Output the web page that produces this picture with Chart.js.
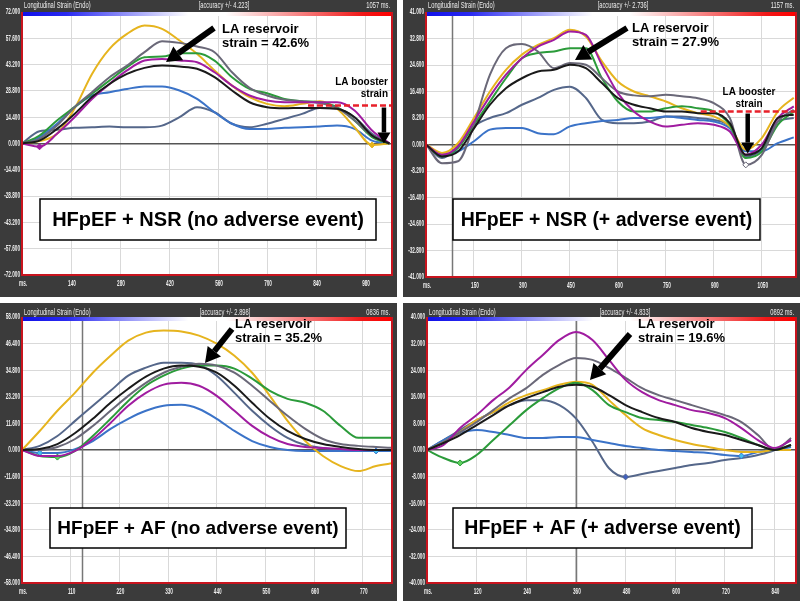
<!DOCTYPE html>
<html>
<head>
<meta charset="utf-8">
<script src="https://cdn.jsdelivr.net/npm/chart.js@4.4.0/dist/chart.umd.min.js"></script>
<style>
  html, body { margin: 0; padding: 0; background: #fff; }
  body { width: 800px; height: 601px; position: relative; overflow: hidden; }
  canvas { position: absolute; }
</style>
</head>
<body>
<canvas id="p1" style="left:0;top:0" width="397" height="297"></canvas>
<canvas id="p2" style="left:403px;top:0" width="397" height="297"></canvas>
<canvas id="p3" style="left:0;top:303px" width="397" height="298"></canvas>
<canvas id="p4" style="left:403px;top:303px" width="397" height="298"></canvas>
<script>
// ========== DATA (ms vs longitudinal strain %) ==========

// Panel 1 - HFpEF + NSR (no adverse event)
const t1 = [0, 50, 100, 150, 200, 250, 300, 350, 400, 450, 500, 550, 600, 650, 700, 750, 800, 850, 900, 950, 1000, 1050];
const black1   = [0, 1.6, 8.0, 16.2, 25.4, 32.6, 38.1, 41.4, 42.7, 42.1, 40.9, 36.3, 29.0, 22.6, 19.9, 19.3, 19.5, 19.5, 19.0, 14.4, 4.4, 0];
const magenta1 = [0, -1.8, 5.3, 14.4, 24.4, 32.6, 40.0, 45.4, 46.3, 45.4, 44.5, 39.0, 31.7, 26.3, 23.5, 22.6, 22.6, 22.6, 22.6, 18.1, 7.1, 0];
const gray1    = [0, 2.5, 9.8, 19.9, 28.1, 36.3, 42.7, 50.0, 56.0, 55.1, 53.1, 50.0, 39.0, 30.5, 26.3, 23.9, 23.2, 22.1, 19.5, 12.6, 4.4, 0];
const green1   = [0, 4.4, 12.6, 19.9, 27.2, 34.5, 41.8, 47.2, 47.6, 49.4, 49.4, 45.4, 36.3, 29.9, 27.5, 24.4, 23.2, 22.6, 19.9, 12.6, 3.5, 0];
const yellow1  = [0, 1.3, 5.3, 19.0, 38.1, 51.8, 60.0, 64.6, 62.8, 56.4, 49.1, 40.0, 31.7, 25.4, 21.7, 20.4, 21.7, 23.2, 19.0, 8.9, -0.8, 0];
const blue1    = [0, 3.5, 10.8, 19.9, 26.3, 28.1, 29.9, 31.2, 31.2, 29.0, 24.4, 17.1, 10.8, 8.0, 8.0, 8.6, 8.9, 9.3, 9.8, 8.0, 1.6, 0];
const slate1   = [0, 6.7, 7.5, 8.6, 8.9, 9.3, 8.9, 8.9, 9.8, 14.4, 19.9, 17.1, 10.8, 8.9, 10.8, 13.5, 16.2, 19.5, 19.0, 14.4, 5.3, 0];
const xTicks1 = [0, 140, 280, 420, 560, 700, 840, 980];
const yTicks1 = [-72, -57.6, -43.2, -28.8, -14.4, 0, 14.4, 28.8, 43.2, 57.6, 72];

// Panel 2 - HFpEF + NSR (+ adverse event)
const t2 = [0, 50, 100, 150, 200, 250, 300, 350, 400, 450, 500, 550, 600, 650, 700, 750, 800, 850, 900, 950, 1000, 1050, 1100, 1150];
const black2   = [0, -3.7, -2.2, 5.0, 12.3, 17.4, 20.5, 22.6, 23.1, 24.7, 23.6, 19.0, 14.4, 12.3, 11.2, 10.2, 10.2, 9.7, 9.7, 6.6, -3.2, -1.1, 8.2, 9.2];
const magenta2 = [0, -3.2, -0.6, 7.1, 14.9, 21.6, 26.7, 30.3, 32.4, 35.0, 33.9, 24.7, 15.9, 10.2, 7.1, 5.6, 6.1, 6.6, 6.1, 4.0, -3.2, 0, 8.2, 11.8];
const gray2    = [0, -5.8, -5.2, 6.1, 21.6, 29.8, 31.1, 28.8, 23.6, 25.2, 24.7, 20.5, 16.4, 15.2, 14.9, 15.4, 14.9, 14.3, 12.8, 8.2, -6.3, -3.2, 7.1, 10.7];
const green2   = [0, -3.7, -1.1, 6.1, 13.3, 20.5, 26.7, 28.3, 28.8, 29.8, 29.8, 20.5, 13.3, 10.2, 10.2, 11.2, 11.8, 11.2, 10.2, 6.1, -4.2, -2.2, 6.1, 10.2];
const yellow2  = [0, -2.6, 0.4, 8.2, 16.4, 23.1, 27.8, 30.8, 32.9, 35.5, 33.4, 25.7, 19.5, 16.4, 14.9, 13.3, 11.2, 9.7, 8.7, 5.6, -1.6, 2.0, 10.2, 14.5];
const blue2    = [0, -3.1, -2.1, 1.0, 4.6, 5.1, 5.1, 3.5, 3.2, 5.6, 6.6, 7.3, 7.6, 8.2, 8.2, 8.7, 8.2, 7.6, 7.1, 5.0, -2.1, -2.1, 0.4, 2.2];
const slate2   = [0, -4.2, -0.5, 5.6, 8.2, 9.7, 12.3, 14.4, 16.9, 17.9, 14.4, 7.6, 6.6, 6.6, 7.1, 8.7, 8.7, 8.2, 7.6, 5.6, -3.7, -1.6, 7.1, 8.2];
const xTicks2 = [0, 150, 300, 450, 600, 750, 900, 1050];
const yTicks2 = [-41, -32.8, -24.6, -16.4, -8.2, 0, 8.2, 16.4, 24.6, 32.8, 41];

// Panel 3 - HFpEF + AF (no adverse event)
const t3 = [0, 40, 80, 120, 160, 200, 240, 280, 320, 360, 400, 440, 480, 520, 560, 600, 640, 680, 720, 760, 800, 840];
const black3   = [0, 0.4, 2.6, 7.4, 13.6, 20.6, 26.7, 32.0, 35.5, 36.8, 36.3, 33.7, 28.0, 20.6, 13.6, 8.3, 4.8, 2.6, 1.3, 0.4, 0, 0];
const magenta3 = [0, -2.6, -2.6, -0.4, 4.8, 11.8, 19.3, 24.9, 28.5, 29.3, 28.0, 23.6, 17.1, 10.5, 5.7, 2.6, 1.3, 0.9, 0.4, 0, 0, 0];
const gray3    = [0, 0, 1.3, 4.8, 10.5, 17.1, 23.6, 29.3, 33.7, 36.3, 37.6, 36.8, 33.7, 28.0, 21.4, 14.9, 9.2, 4.8, 2.6, 1.8, 1.3, 0.9];
const green3   = [0, -2.6, -3.1, -0.4, 6.1, 13.6, 21.4, 28.0, 32.4, 35.5, 36.8, 36.8, 35.5, 31.1, 25.8, 22.3, 20.6, 17.1, 10.5, 5.3, 5.3, 5.3];
const yellow3  = [0, 8.3, 17.1, 25.0, 33.7, 41.1, 47.7, 51.2, 52.1, 51.7, 49.9, 46.4, 41.1, 33.7, 23.6, 12.7, 3.9, -2.6, -7.0, -9.2, -7.0, -5.7];
const blue3    = [0, -1.3, -1.3, 0.4, 3.9, 9.2, 13.6, 17.1, 19.3, 19.7, 17.9, 13.6, 8.3, 3.9, 1.3, 0, -0.4, -0.4, -0.4, -0.4, -0.4, -0.4];
const slate3   = [0, 1.8, 6.1, 12.7, 19.3, 25.8, 32.4, 35.9, 38.1, 38.1, 37.2, 32.4, 24.9, 17.1, 10.5, 5.3, 2.2, 0.9, 0, -0.4, -0.4, 0];
const xTicks3 = [0, 110, 220, 330, 440, 550, 660, 770];
const yTicks3 = [-58, -46.4, -34.8, -23.2, -11.6, 0, 11.6, 23.2, 34.8, 46.4, 58];

// Panel 4 - HFpEF + AF (+ adverse event)
const t4 = [0, 40, 80, 120, 160, 200, 240, 280, 320, 360, 400, 440, 480, 520, 560, 600, 640, 680, 720, 760, 800, 840, 880];
const black4   = [0, 2.1, 4.5, 7.5, 10.5, 13.5, 15.6, 17.4, 19.0, 19.6, 19.0, 16.5, 13.5, 11.4, 9.6, 8.4, 6.6, 5.4, 4.5, 3.0, 1.5, 0, 1.5];
const magenta4 = [0, 1.5, 6.6, 10.5, 15.0, 18.9, 24.1, 28.6, 33.1, 35.5, 33.1, 27.1, 21.1, 17.4, 15.0, 13.5, 12.0, 11.1, 9.6, 6.6, 3.0, 0.6, 3.0];
const gray4    = [0, 2.4, 5.4, 8.4, 12.0, 15.6, 18.6, 22.6, 25.6, 27.7, 27.1, 24.7, 21.7, 18.6, 16.5, 15.0, 13.5, 12.0, 10.5, 8.4, 4.5, 0, 3.6];
const green4   = [0, -2.4, -3.9, -1.5, 3.0, 7.5, 12.0, 15.6, 18.6, 20.2, 18.0, 13.5, 11.4, 9.6, 9.0, 8.4, 7.5, 6.6, 5.4, 3.6, 1.5, 0, 1.5];
const yellow4  = [0, 2.4, 5.4, 9.0, 11.4, 14.4, 16.5, 18.0, 19.6, 20.5, 19.6, 15.0, 10.5, 6.6, 4.5, 3.0, 1.8, 0.9, 0, -0.6, -0.6, 0, 0];
const blue4    = [0, 3.0, 5.1, 6.0, 5.4, 4.5, 3.6, 3.6, 3.9, 3.9, 3.0, 2.1, 1.2, 0.6, 0, -0.3, -0.6, -0.9, -1.5, -1.8, -0.6, 0, 0.9];
const slate4   = [0, 3.0, 6.0, 9.0, 11.4, 13.5, 15.0, 15.0, 13.5, 9.5, 2.5, -5.5, -8.1, -7.2, -6.3, -5.4, -4.5, -3.9, -3.0, -2.4, -1.5, 0, 3.0];
const xTicks4 = [0, 120, 240, 360, 480, 600, 720, 840];
const yTicks4 = [-40, -32, -24, -16, -8, 0, 8, 16, 24, 32, 40];

// ========== STYLE ==========

const COLORS = {
    black: '#1a1a1a', magenta: '#a01ca0', gray: '#6a6878', green: '#2b9b3a',
    yellow: '#e6b41e', blue: '#3b73c8', slate: '#55678a'
};
const SANS = '"Liberation Sans", Arial, sans-serif';

function arrow(ctx, x1, y1, x2, y2, w, hl, hw) {
    const a = Math.atan2(y2 - y1, x2 - x1);
    const bx = x2 - hl * Math.cos(a), by = y2 - hl * Math.sin(a);
    ctx.lineWidth = w;
    ctx.lineCap = 'butt';
    ctx.beginPath(); ctx.moveTo(x1, y1); ctx.lineTo(bx, by); ctx.stroke();
    ctx.beginPath();
    ctx.moveTo(x2, y2);
    ctx.lineTo(bx + hw / 2 * Math.sin(a), by - hw / 2 * Math.cos(a));
    ctx.lineTo(bx - hw / 2 * Math.sin(a), by + hw / 2 * Math.cos(a));
    ctx.closePath(); ctx.fill();
}

// the echo software uses a condensed face, none installed: squeeze a normal one
function narrowText(ctx, text, x, y, align, font, sx) {
    ctx.save();
    ctx.translate(x, y);
    ctx.scale(sx, 1);
    ctx.font = font + ' ' + SANS;
    ctx.textAlign = align;
    ctx.textBaseline = 'middle';
    ctx.fillText(text, 0, 0);
    ctx.restore();
}

// panel frame: dark background, header, gradient bar, red border, labels and arrows
function framePlugin(o) {
    return {
        id: 'frame',
        beforeDraw(chart) {
            const { ctx, chartArea: a } = chart;
            ctx.save();
            ctx.fillStyle = '#3b3b3b';
            ctx.fillRect(0, 0, chart.width, chart.height);
            ctx.fillStyle = '#fff';
            ctx.fillRect(a.left, a.top, a.right - a.left, a.bottom - a.top);
            ctx.restore();
        },
        beforeDatasetsDraw(chart) {
            if (o.marker == null) return;
            const { ctx, chartArea: a, scales } = chart;
            const x = Math.round(scales.x.getPixelForValue(o.marker)) + 0.5;
            ctx.save();
            ctx.strokeStyle = '#777';
            ctx.lineWidth = 1.5;
            ctx.beginPath(); ctx.moveTo(x, a.top); ctx.lineTo(x, a.bottom); ctx.stroke();
            ctx.restore();
        },
        afterDraw(chart) {
            const { ctx, chartArea: a, scales } = chart;
            ctx.save();
            // axis tick labels, from the library's own ticks
            ctx.fillStyle = '#ececec';
            scales.y.ticks.forEach(t => {
                narrowText(ctx, t.value.toFixed(3), a.left - 2, scales.y.getPixelForValue(t.value), 'right', 'bold 8.5px', 0.55);
            });
            scales.x.ticks.forEach(t => {
                const label = t.value === 0 ? 'ms.' : String(t.value);
                narrowText(ctx, label, scales.x.getPixelForValue(t.value) + 1, a.bottom + 9, 'center', 'bold 8.5px', 0.55);
            });
            // header
            narrowText(ctx, 'Longitudinal Strain (Endo)', a.left + 2, o.headY, 'left', '9px', 0.64);
            narrowText(ctx, o.accuracy, o.accX, o.headY, 'center', '9px', 0.64);
            narrowText(ctx, o.duration, a.right - 2, o.headY, 'right', '9px', 0.64);
            // gradient bar
            const g = ctx.createLinearGradient(a.left, 0, a.right, 0);
            g.addColorStop(0, '#1010e8');
            g.addColorStop(0.12, '#2a2af0');
            g.addColorStop(0.45, '#ffffff');
            g.addColorStop(0.55, '#ffffff');
            g.addColorStop(0.92, '#f01818');
            g.addColorStop(1, '#ff0000');
            ctx.fillStyle = g;
            ctx.fillRect(a.left, a.top, a.right - a.left, 4);
            // red border
            ctx.strokeStyle = '#c8141e';
            ctx.lineWidth = 2;
            ctx.beginPath();
            ctx.moveTo(a.left, a.top); ctx.lineTo(a.left, a.bottom);
            ctx.lineTo(a.right, a.bottom); ctx.lineTo(a.right, a.top);
            ctx.stroke();
            // booster strain annotation
            ctx.textBaseline = 'middle';
            if (o.booster) {
                const b = o.booster;
                const y = scales.y.getPixelForValue(b.level);
                ctx.strokeStyle = '#e8202a';
                ctx.lineWidth = 2.5;
                ctx.setLineDash([6, 3]);
                ctx.beginPath();
                ctx.moveTo(scales.x.getPixelForValue(b.from), y);
                ctx.lineTo(a.right - 1, y);
                ctx.stroke();
                ctx.setLineDash([]);
                ctx.fillStyle = '#000';
                ctx.strokeStyle = '#000';
                const bx = scales.x.getPixelForValue(b.at);
                arrow(ctx, bx, y + 2, bx, scales.y.getPixelForValue(b.tip), 4.5, 11, 13);
                ctx.font = 'bold 10px ' + SANS;
                ctx.textAlign = b.align;
                ctx.fillText('LA booster', b.textX, b.textY);
                ctx.fillText('strain', b.textX, b.textY + 12);
            }
            // reservoir annotation
            ctx.fillStyle = '#000';
            ctx.strokeStyle = '#000';
            ctx.font = 'bold 13px ' + SANS;
            ctx.textAlign = 'left';
            ctx.fillText('LA reservoir', o.resX, o.resY);
            ctx.fillText(o.resText, o.resX, o.resY + 14.5);
            arrow(ctx, o.arrow[0], o.arrow[1], o.arrow[2], o.arrow[3], 6, 15, 17);
            // group label box
            const [bx, by, bw, bh] = o.box;
            ctx.fillStyle = '#fff';
            ctx.fillRect(bx, by, bw, bh);
            ctx.lineWidth = 1.5;
            ctx.strokeRect(bx, by, bw, bh);
            ctx.fillStyle = '#000';
            ctx.font = 'bold ' + o.labelSize + 'px ' + SANS;
            ctx.textAlign = 'center';
            ctx.fillText(o.label, bx + bw / 2, by + bh / 2 + 1);
            ctx.restore();
        }
    };
}

function makePanel(id, o) {
    const canvas = document.getElementById(id);
    const W = canvas.width, H = canvas.height;
    return new Chart(canvas, {
        type: 'line',
        data: {
            datasets: o.series.map(s => {
                const marks = s[2] || [];
                const dot = s[3] || COLORS[s[1]];
                return {
                    data: o.t.map((x, i) => ({ x, y: s[0][i] })),
                    borderColor: COLORS[s[1]],
                    borderWidth: 2,
                    pointStyle: 'rectRot',
                    pointRadius: c => marks.includes(c.dataIndex) ? 3 : 0,
                    pointBackgroundColor: dot,
                    pointBorderColor: COLORS[s[1]],
                    pointBorderWidth: 1,
                    tension: 0.4,
                    cubicInterpolationMode: 'monotone',
                    fill: false
                };
            })
        },
        options: {
            responsive: false,
            animation: false,
            events: [],
            layout: { padding: { left: 0, right: W - o.area[1], top: o.area[2], bottom: 0 } },
            plugins: { legend: { display: false }, tooltip: { enabled: false } },
            scales: {
                x: {
                    type: 'linear', min: 0, max: o.maxMs,
                    afterBuildTicks: s => { s.ticks = o.xTicks.map(v => ({ value: v })); },
                    afterFit: s => { s.height = H - o.area[3]; },
                    ticks: { display: false, autoSkip: false },
                    grid: { color: '#d9d9d9', lineWidth: 1, drawTicks: false },
                    border: { display: false }
                },
                y: {
                    min: o.yTicks[0], max: o.yTicks[o.yTicks.length - 1],
                    afterBuildTicks: s => { s.ticks = o.yTicks.map(v => ({ value: v })); },
                    afterFit: s => { s.width = o.area[0]; },
                    ticks: { display: false, autoSkip: false },
                    grid: {
                        color: c => (c.tick && c.tick.value === 0) ? '#555' : '#d9d9d9',
                        lineWidth: c => (c.tick && c.tick.value === 0) ? 1.5 : 1,
                        drawTicks: false
                    },
                    border: { display: false }
                }
            }
        },
        plugins: [framePlugin(o)]
    });
}

makePanel('p1', {
    t: t1, maxMs: 1057, xTicks: xTicks1, yTicks: yTicks1, area: [22, 392, 12, 275],
    series: [[black1, 'black'], [magenta1, 'magenta', [1]], [gray1, 'gray'], [green1, 'green'],
             [yellow1, 'yellow', [20]], [blue1, 'blue'], [slate1, 'slate']],
    headY: 6, accuracy: '[accuracy +/- 4.223]', accX: 224, duration: '1057 ms.',
    resX: 222, resY: 29, resText: 'strain = 42.6%', arrow: [214, 28, 166, 62],
    booster: { level: 20.8, from: 817, at: 1034, tip: 0, align: 'right', textX: 388, textY: 82 },
    box: [40, 199, 336, 41], label: 'HFpEF + NSR (no adverse event)', labelSize: 20
});

makePanel('p2', {
    t: t2, maxMs: 1157, xTicks: xTicks2, yTicks: yTicks2, area: [23, 393, 12, 277], marker: 81,
    series: [[black2, 'black'], [magenta2, 'magenta'], [gray2, 'gray', [20], '#ffffff'], [green2, 'green'],
             [yellow2, 'yellow'], [blue2, 'blue'], [slate2, 'slate']],
    headY: 6, accuracy: '[accuracy +/- 2.736]', accX: 220, duration: '1157 ms.',
    resX: 229, resY: 28, resText: 'strain = 27.9%', arrow: [224, 28, 172, 60],
    booster: { level: 10.2, from: 859, at: 1006, tip: -2.8, align: 'center', textX: 346, textY: 92 },
    box: [50, 199, 307, 41], label: 'HFpEF + NSR (+ adverse event)', labelSize: 19.5
});

makePanel('p3', {
    t: t3, maxMs: 836, xTicks: xTicks3, yTicks: yTicks3, area: [22, 392, 14, 280], marker: 136,
    series: [[black3, 'black'], [magenta3, 'magenta'], [gray3, 'gray'], [green3, 'green', [2], '#5fd05f'],
             [yellow3, 'yellow'], [blue3, 'blue', [1, 20], '#40c0f0'], [slate3, 'slate']],
    headY: 10, accuracy: '[accuracy +/- 2.898]', accX: 225, duration: '0836 ms.',
    resX: 235, resY: 21, resText: 'strain = 35.2%', arrow: [232, 26, 205, 60],
    box: [50, 205, 296, 40], label: 'HFpEF + AF (no adverse event)', labelSize: 19
});

makePanel('p4', {
    t: t4, maxMs: 892, xTicks: xTicks4, yTicks: yTicks4, area: [24, 393, 14, 280], marker: 360,
    series: [[black4, 'black'], [magenta4, 'magenta'], [gray4, 'gray'], [green4, 'green', [2], '#5fd05f'],
             [yellow4, 'yellow'], [blue4, 'blue', [19], '#40c0f0'], [slate4, 'slate', [12], '#4060c0']],
    headY: 10, accuracy: '[accuracy +/- 4.833]', accX: 222, duration: '0892 ms.',
    resX: 235, resY: 21, resText: 'strain = 19.6%', arrow: [227, 31, 187, 77],
    box: [50, 205, 299, 40], label: 'HFpEF + AF (+ adverse event)', labelSize: 19.5
});
</script>
</body>
</html>
